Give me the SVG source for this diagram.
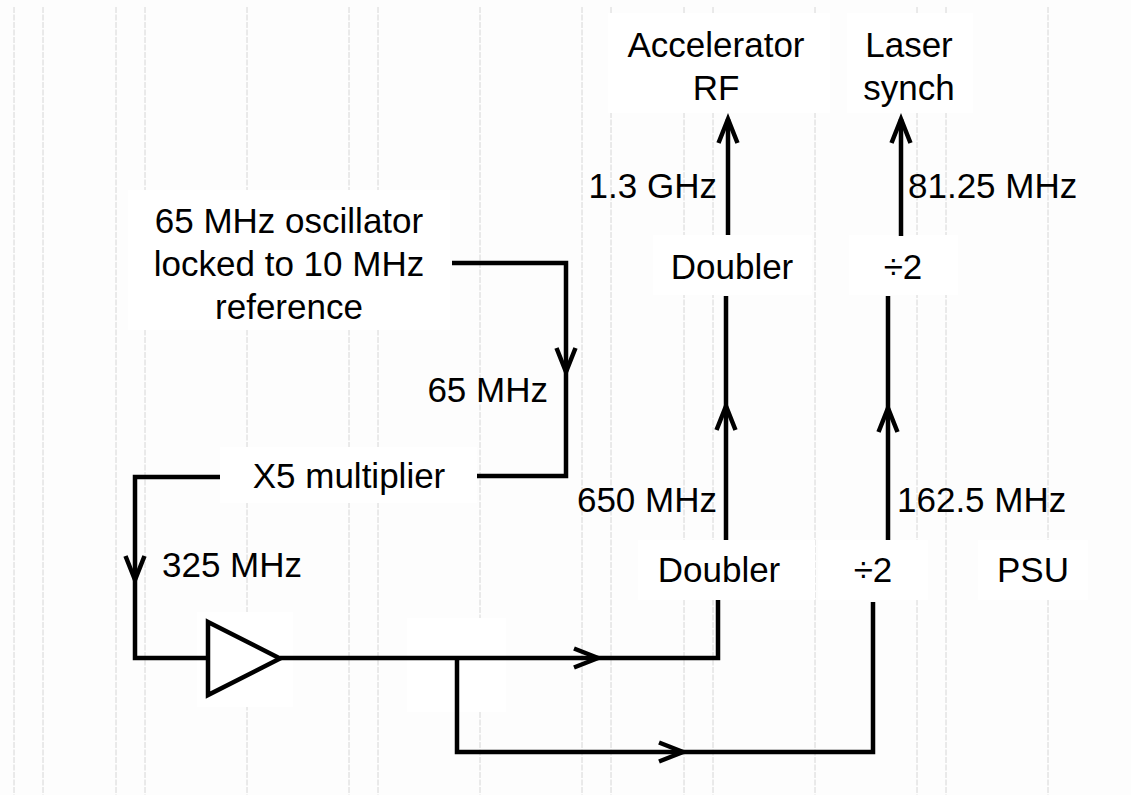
<svg xmlns="http://www.w3.org/2000/svg" xmlns:xlink="http://www.w3.org/1999/xlink" width="1131" height="795" viewBox="0 0 1131 795">
<style>
.grid line{stroke:#cccccc;stroke-width:0.8;stroke-dasharray:6 1.5}
.box{fill:#ffffff;stroke:none}
text{font-family:"Liberation Sans",Arial,sans-serif;font-size:35px;fill:#000}
.c{text-anchor:middle}
.e{text-anchor:end}
.wire{fill:none;stroke:#000;stroke-width:4.5;stroke-linejoin:miter}
.ah{fill:none;stroke:#000;stroke-width:4.5;stroke-linejoin:miter;stroke-linecap:butt}
</style>
<defs>
<path id="ah" d="M-24,-9.5 L0,0 L-24,9.5"/>
</defs>
<rect width="1131" height="795" fill="#fdfdfd"/>
<g class="grid">
<line x1="14" y1="7" x2="14" y2="795"/>
<line x1="43" y1="7" x2="43" y2="795"/>
<line x1="116" y1="7" x2="116" y2="795"/>
<line x1="145" y1="7" x2="145" y2="795"/>
<line x1="247" y1="7" x2="247" y2="795"/>
<line x1="349" y1="7" x2="349" y2="795"/>
<line x1="378" y1="7" x2="378" y2="795"/>
<line x1="480" y1="7" x2="480" y2="795"/>
<line x1="582" y1="7" x2="582" y2="795"/>
<line x1="611" y1="7" x2="611" y2="795"/>
<line x1="684" y1="7" x2="684" y2="795"/>
<line x1="713" y1="7" x2="713" y2="795"/>
<line x1="815" y1="7" x2="815" y2="795"/>
<line x1="917" y1="7" x2="917" y2="795"/>
<line x1="946" y1="7" x2="946" y2="795"/>
<line x1="1048" y1="7" x2="1048" y2="795"/>
</g>
<g id="accelerator-rf">
<rect class="box" x="608" y="13" width="222" height="100"/>
<text class="c" x="716" y="57">Accelerator</text>
<text class="c" x="716" y="100">RF</text>
</g>
<g id="laser-synch">
<rect class="box" x="847" y="13" width="126" height="100"/>
<text class="c" x="909" y="57">Laser</text>
<text class="c" x="909" y="100">synch</text>
</g>
<g id="doubler-top">
<rect class="box" x="653" y="235" width="159" height="60"/>
<text class="c" x="732" y="279">Doubler</text>
</g>
<g id="div2-top">
<rect class="box" x="849" y="235" width="109" height="60"/>
<text class="c" x="903" y="279">÷2</text>
</g>
<g id="oscillator">
<rect class="box" x="128" y="190" width="322" height="140"/>
<text class="c" x="289" y="233">65 MHz oscillator</text>
<text class="c" x="289" y="276">locked to 10 MHz</text>
<text class="c" x="289" y="319">reference</text>
</g>
<g id="x5-multiplier">
<rect class="box" x="220" y="447" width="257" height="56"/>
<text class="c" x="349" y="488">X5 multiplier</text>
</g>
<g id="amplifier">
<rect class="box" x="197" y="612" width="96" height="95"/>
<polygon points="208,622 280,658.5 208,695" fill="#fff" stroke="#000" stroke-width="4.5" stroke-linejoin="miter"/>
</g>
<g id="splitter">
<rect class="box" x="407" y="618" width="99" height="94"/>
</g>
<g id="doubler-bottom">
<rect class="box" x="638" y="540" width="177" height="60"/>
<text class="c" x="719" y="582">Doubler</text>
</g>
<g id="div2-bottom">
<rect class="box" x="818" y="540" width="110" height="60"/>
<text class="c" x="873" y="582">÷2</text>
</g>
<g id="psu">
<rect class="box" x="978" y="540" width="110" height="60"/>
<text class="c" x="1033" y="582">PSU</text>
</g>
<g id="connectors">
<path class="wire" d="M452,263 H566 V476 H477"/>
<use href="#ah" class="ah" transform="translate(566,372) rotate(90)"/>
<path class="wire" d="M220,477 H135 V658 H208"/>
<use href="#ah" class="ah" transform="translate(135,580) rotate(90)"/>
<path class="wire" d="M280,658 H718 V600"/>
<use href="#ah" class="ah" transform="translate(598,658)"/>
<path class="wire" d="M457,658 V752 H873 V602"/>
<use href="#ah" class="ah" transform="translate(683,752)"/>
<path class="wire" d="M726,540 V296"/>
<use href="#ah" class="ah" transform="translate(726,406) rotate(-90)"/>
<path class="wire" d="M888,540 V296"/>
<use href="#ah" class="ah" transform="translate(888,408) rotate(-90)"/>
<path class="wire" d="M728,235 V119"/>
<use href="#ah" class="ah" transform="translate(728,119) rotate(-90)"/>
<path class="wire" d="M901,236 V119"/>
<use href="#ah" class="ah" transform="translate(901,119) rotate(-90)"/>
</g>
<g id="labels">
<text class="e" x="717" y="198">1.3 GHz</text>
<text x="908" y="198">81.25 MHz</text>
<text class="e" x="548" y="402">65 MHz</text>
<text x="162" y="577">325 MHz</text>
<text class="e" x="717" y="512">650 MHz</text>
<text x="897" y="512">162.5 MHz</text>
</g>
</svg>
